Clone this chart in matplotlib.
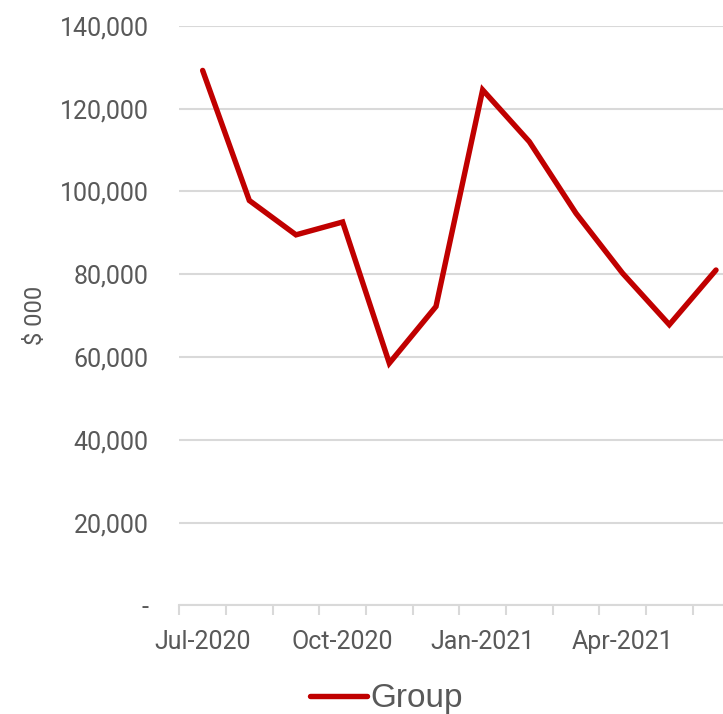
import matplotlib.pyplot as plt
from matplotlib.ticker import FuncFormatter

plt.rcParams['font.family'] = ['Roboto', 'DejaVu Sans']

months = ["Jul-2020", "Aug-2020", "Sep-2020", "Oct-2020", "Nov-2020", "Dec-2020",
          "Jan-2021", "Feb-2021", "Mar-2021", "Apr-2021", "May-2021", "Jun-2021"]
group = [129200, 97800, 89500, 92600, 58500, 72200,
         124500, 112000, 94700, 80200, 67800, 81000]
label_every = 3

grey = "#595959"
grid = "#D9D9D9"

fig = plt.figure(figsize=(7.23, 7.14), dpi=100)
ax = fig.add_axes([0.248, 0.152, 0.7746, 0.812])

x = range(len(months))
ax.plot(x, group, color="#C00000", lw=3.9, solid_joinstyle="miter",
        solid_capstyle="round", label="Group", clip_on=False)

ax.set_xlim(-0.5, len(months) - 0.5)
ax.set_ylim(0, 140000)
ax.set_yticks(range(0, 140001, 20000))
ax.yaxis.set_major_formatter(FuncFormatter(lambda v, p: "-" if v == 0 else f"{v:,.0f}"))
ax.grid(axis="y", color=grid, lw=1.5)
ax.set_axisbelow(True)

# tick marks at category boundaries, labels at category centres
ax.set_xticks([i - 0.5 for i in range(len(months) + 1)])
ax.set_xticklabels([])
ax.set_xticks(list(x)[::label_every], minor=True)
ax.set_xticklabels(months[::label_every], minor=True)
ax.tick_params(axis="x", which="major", length=7, width=1.5, color=grid)
ax.tick_params(axis="x", which="minor", length=0, pad=18, labelsize=18, labelcolor=grey)
ax.tick_params(axis="y", length=0, pad=22, labelsize=18, labelcolor=grey)

for s in ["top", "right", "left"]:
    ax.spines[s].set_visible(False)
ax.spines["bottom"].set_color(grid)
ax.spines["bottom"].set_linewidth(1.5)

ax.set_ylabel("$ 000", fontsize=17, color=grey, labelpad=9)

fig.legend(loc="center", bbox_to_anchor=(386.5 / 723, 15 / 714), frameon=False,
           prop={"family": "Liberation Sans", "size": 24}, labelcolor=grey,
           handlelength=1.7, handletextpad=0.12, borderpad=0)

fig.savefig("out.png", dpi=100)
